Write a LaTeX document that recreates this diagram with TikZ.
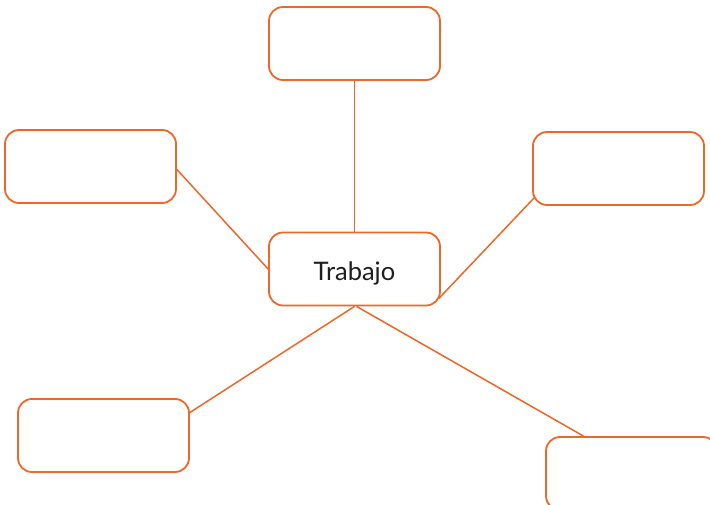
\documentclass[tikz,border=0pt]{standalone}
\usepackage{fontspec}
\setmainfont{Lato}
\usepackage{tikz}
\usetikzlibrary{positioning,calc}
\definecolor{mapline}{RGB}{236, 104, 42}
\definecolor{maptext}{RGB}{30, 30, 30}

\begin{document}
\begin{tikzpicture}[
    x=1pt, y=-1pt,
    ideabox/.style={draw=mapline, fill=white, line width=1.8pt, rounded corners=14pt,
        minimum width=171pt, minimum height=73pt, inner sep=0pt, align=center},
    link/.style={draw=mapline, line width=1.5pt},
]
\useasboundingbox (0,0) rectangle (710,505);
\clip (0,0) rectangle (710,505);

% === CENTRE ===
\node[ideabox] (trabajo) at (354.5, 269) {};
\node[font=\fontsize{25.5}{30}\selectfont, text=maptext, inner sep=0pt] (trabajolbl) at (354.5, 273.5) {Trabajo};

% === BRANCHES ===
\node[ideabox] (top) at (354.5, 43.5) {};
\node[ideabox] (left) at (90.5, 166.5) {};
\node[ideabox] (right) at (618.5, 168.5) {};
\node[ideabox] (botleft) at (103.5, 435.5) {};
\node[ideabox] (botright) at (631.5, 473.5) {};

% Links
\draw[link] (top.south) -- (trabajo.north);
\draw[link] ([yshift=-3pt]left.east) -- (trabajo.west);
\draw[link] ([shift={(-2pt,8pt)}]trabajo.south east) -- ([shift={(2pt,8pt)}]right.south west);
\draw[link] (trabajo.south) -- ([yshift=23pt]botleft.east);
\draw[link] ([xshift=2pt]trabajo.south) -- ([xshift=-48pt]botright.north);

\end{tikzpicture}
\end{document}
